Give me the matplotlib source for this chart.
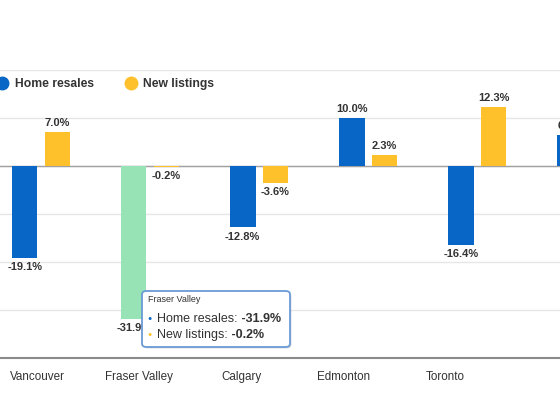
import numpy as np
import matplotlib.pyplot as plt
from matplotlib.lines import Line2D
from matplotlib.patches import FancyBboxPatch

plt.rcParams['font.family'] = ['Liberation Sans', 'DejaVu Sans']

# data
cities = ['Vancouver', 'Fraser Valley', 'Calgary', 'Edmonton', 'Toronto', '']
home_resales = [-19.1, -31.9, -12.8, 10.0, -16.4, 6.4]
new_listings = [7.0, -0.2, -3.6, 2.3, 12.3, np.nan]
hover_city = 'Fraser Valley'

blue = '#0866c6'
yellow = '#fec12c'
hover_green = '#98e3b5'
text_col = '#333333'

fig = plt.figure(figsize=(5.6, 4.2), dpi=100)
ax = fig.add_axes([0, 0.1476, 1, 0.6857])

x = np.arange(len(cities))
w = 0.235
off = 0.15

cols = [hover_green if c == hover_city else blue for c in cities]
b1 = ax.bar(x - off, home_resales, w, color=cols, zorder=3)
b2 = ax.bar(x + off, new_listings, w, color=yellow, zorder=3)

for bars, vals in [(b1, home_resales), (b2, new_listings)]:
    for r, v in zip(bars, vals):
        if np.isnan(v):
            continue
        cx = r.get_x() + r.get_width() / 2
        if v >= 0:
            ax.annotate('%.1f%%' % v, (cx, v), xytext=(0, 3), textcoords='offset points',
                        ha='center', va='bottom', fontsize=8, fontweight='bold',
                        color=text_col, zorder=4, annotation_clip=False)
        else:
            ax.annotate('%.1f%%' % v, (cx, v), xytext=(0, -3), textcoords='offset points',
                        ha='center', va='top', fontsize=8, fontweight='bold',
                        color=text_col, zorder=4, annotation_clip=False)

ax.set_xlim(-0.376, 4.76)
ax.set_ylim(-40, 20)
ax.set_yticks(np.arange(-40, 21, 10))
ax.yaxis.grid(True, color='#e6e6e6', lw=1, zorder=0)
ax.axhline(0, color='#a0a0a0', lw=1, zorder=2)
ax.tick_params(axis='y', left=False, labelleft=False)

# category labels sit a bit left of the groups in the original
nlab = 5
ax.set_xticks(x[:nlab] * 0.936 - 0.037)
ax.set_xticklabels(cities[:nlab], fontsize=8.4, color='#333333')
ax.tick_params(axis='x', length=0, pad=9)

for s in ['top', 'left', 'right']:
    ax.spines[s].set_visible(False)
ax.spines['bottom'].set_color('#8a8a8a')
ax.spines['bottom'].set_linewidth(1.5)

handles = [Line2D([], [], marker='o', ls='', ms=9, color=blue, label='Home resales'),
           Line2D([], [], marker='o', ls='', ms=9, color=yellow, label='New listings')]
fig.legend(handles=handles, loc='center left', bbox_to_anchor=(-0.018, 0.799),
           bbox_transform=fig.transFigure, ncol=2, frameon=False, borderpad=0,
           handlelength=1.0, handletextpad=0.55, columnspacing=2.55,
           prop={'weight': 'bold', 'size': 8.7}, labelcolor=text_col)

# tooltip
i = cities.index(hover_city)
tx0, ty0, tw, th = 142 / 560, 1 - 347 / 420, 148 / 560, 56 / 420
shadow = FancyBboxPatch((tx0 + 1.5 / 560, ty0 - 1.5 / 420), tw, th,
                        boxstyle='round,pad=0,rounding_size=0.008',
                        transform=fig.transFigure, fc='#000000', ec='none',
                        alpha=0.12, zorder=9)
box = FancyBboxPatch((tx0, ty0), tw, th, boxstyle='round,pad=0,rounding_size=0.008',
                     transform=fig.transFigure, fc='white', ec='#6a9bd8', lw=1.3,
                     zorder=10)
fig.add_artist(shadow)
fig.add_artist(box)

fig.text(148 / 560, 1 - 300 / 420, hover_city, fontsize=6.5, color=text_col,
         va='center', ha='left', zorder=11)
rows = [('Home resales', home_resales[i], blue, 319),
        ('New listings', new_listings[i], yellow, 335)]
for name, v, c, py in rows:
    fig.text(147 / 560, 1 - py / 420, '\u25cf', fontsize=5, color=c,
             va='center', ha='left', zorder=11)
    t = fig.text(157 / 560, 1 - py / 420, name + ':', fontsize=9, color=text_col,
                 va='center', ha='left', zorder=11)
    fig.add_artist(plt.Annotation(' %.1f%%' % v, xy=(1, 0), xycoords=t, va='bottom',
                                  ha='left', fontsize=9, fontweight='bold',
                                  color=text_col, zorder=11))

fig.savefig('out.png', dpi=100)
